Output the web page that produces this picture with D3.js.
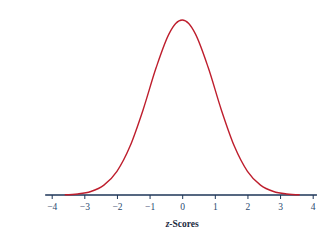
<!DOCTYPE html>
<html>
<head>
<meta charset="utf-8">
<script src="https://cdn.jsdelivr.net/npm/d3@7"></script>
<style>
  body { margin: 0; background: #fff; }
  svg { display: block; }
</style>
</head>
<body>
<svg id="chart" width="335" height="240"></svg>
<script>
// z values sampled along the curve
const zValues = [-3.6, -3.2, -2.8, -2.4, -2.0, -1.6, -1.2, -0.8, -0.4, -0.2, 0,
  0.2, 0.4, 0.8, 1.2, 1.6, 2.0, 2.4, 2.8, 3.2, 3.6];
// curve height (density)
const density = [0.0006, 0.0024, 0.0079, 0.0224, 0.054, 0.111, 0.194, 0.290, 0.368, 0.391, 0.399,
  0.391, 0.368, 0.290, 0.194, 0.111, 0.054, 0.0224, 0.0079, 0.0024, 0.0006];
const tickValues = [-4, -3, -2, -1, 0, 1, 2, 3, 4];
const axisTitle = 'Scores';

const svg = d3.select('#chart');
const baseY = 195;

const x = d3.scaleLinear().domain([-4, 4]).range([51.7, 312.7]);
const y = d3.scaleLinear().domain([0, 0.399]).range([baseY, 20]);

// axis line, running a little past the end ticks
svg.append('line')
  .attr('x1', x(-4.2)).attr('x2', x(4.13))
  .attr('y1', baseY).attr('y2', baseY)
  .attr('stroke', '#1d3557').attr('stroke-width', 1.3);

const axis = d3.axisBottom(x)
  .tickValues(tickValues)
  .tickSize(4)
  .tickPadding(4)
  .tickFormat(d => d < 0 ? '\u2212' + Math.abs(d) : d);

const g = svg.append('g')
  .attr('transform', `translate(0,${baseY})`)
  .call(axis);
g.select('.domain').remove();
g.selectAll('.tick line').attr('stroke', '#1d3557').attr('stroke-width', 1);
g.selectAll('.tick text')
  .attr('fill', '#2b4a6f')
  .style('font-family', '"Liberation Serif", "DejaVu Serif", serif')
  .style('font-size', '9.5px');

// curve
const pts = zValues.map((z, i) => [z, density[i]]);
const line = d3.line()
  .x(d => x(d[0]))
  .y(d => y(d[1]))
  .curve(d3.curveMonotoneX);
svg.append('path')
  .datum(pts)
  .attr('d', line)
  .attr('fill', 'none')
  .attr('stroke', '#be1e2d')
  .attr('stroke-width', 1.4);

// axis title
const title = svg.append('text')
  .attr('x', x(0))
  .attr('y', 227)
  .attr('text-anchor', 'middle')
  .attr('fill', '#1a2a40')
  .style('font-family', '"Liberation Serif", "DejaVu Serif", serif')
  .style('font-size', '9.5px')
  .style('font-weight', 'bold');
title.append('tspan').style('font-style', 'italic').text('z');
title.append('tspan').text('-' + axisTitle);
</script>
</body>
</html>
